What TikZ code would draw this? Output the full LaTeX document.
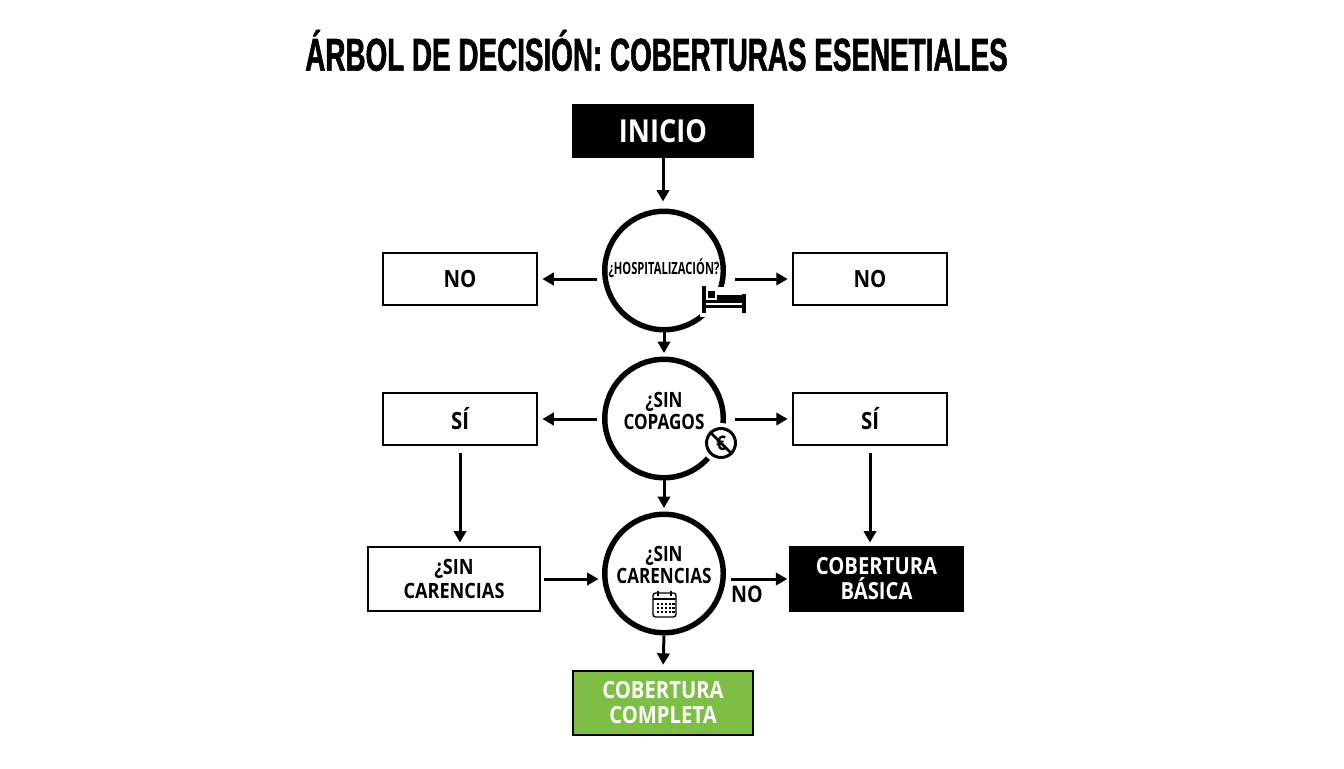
\documentclass[tikz,border=0pt]{standalone}
\usepackage{fontspec}
\setmainfont{Open Sans}
\newfontfamily\titlefont[FakeStretch=0.605,FakeBold=1.2]{Liberation Sans}
\newfontfamily\boxfont[FakeStretch=0.86]{Open Sans}
\newfontfamily\askfont[FakeStretch=0.81]{Open Sans}
\newfontfamily\tightfont[FakeStretch=0.66]{Open Sans}
\usetikzlibrary{arrows.meta}
\definecolor{leafgreen}{HTML}{7DBE45}
\tikzset{
  flow/.style={line width=1.7pt,-{Triangle[length=6.5pt,width=7pt]}},
  whitebox/.style={draw,fill=white,line width=1.1pt,font=\boxfont\bfseries\fontsize{13.5}{15.5}\selectfont,align=center,inner sep=0pt},
  blackbox/.style={whitebox,fill=black,text=white},
  ask/.style={circle,draw,line width=3.1pt,minimum size=2.37cm,inner sep=0pt},
  asktext/.style={font=\askfont\bfseries\fontsize{12}{12.8}\selectfont,align=center,inner sep=0pt},
}
\begin{document}
\begin{tikzpicture}[x=0.02cm,y=-0.02cm]
\useasboundingbox (0,0) rectangle (1344,768);
\node[font=\titlefont\bfseries\fontsize{26.2}{28}\selectfont,inner sep=0pt] (title) at (656.5,50.5) {ÁRBOL DE DECISIÓN: COBERTURAS ESENETIALES};

\node[blackbox,minimum width=3.6cm,minimum height=1.06cm,font=\boxfont\bfseries\fontsize{18}{20}\selectfont] (inicio) at (663,131) {INICIO};

% circles
\node[ask] (hosp) at (664,270.5) {};
\node[ask] (copagos) at (664,418.5) {};
\node[ask] (carencias) at (664,573.5) {};

% gaps in the rings
\fill[white] (700,287) rectangle (748,317);
\fill[white] (721,443) circle (20);

\node[asktext,font=\tightfont\bfseries\fontsize{9.6}{11}\selectfont] (hosptext) at (664,268) {¿HOSPITALIZACIÓN?};
\node[asktext] (copagostext) at (664,411) {¿SIN\\COPAGOS};
\node[asktext] (carenciastext) at (664,565) {¿SIN\\CARENCIAS};

% bed
\fill (702,286) rectangle (706,313);
\fill (742,294) rectangle (745.5,313);
\fill (706,304.5) rectangle (742,308);
\fill (716.5,295) rectangle (742,303);
\fill (707.5,291) rectangle (715,298);
\fill (706,299.5) rectangle (717,303);

% no euro
\node[circle,draw,fill=white,line width=1.7pt,minimum size=0.58cm,inner sep=0pt,font=\boxfont\bfseries\fontsize{11.5}{12}\selectfont] (noeuro) at (721,443) {€};
\draw[line width=1.6pt] (noeuro.north west) -- (noeuro.south east);

% calendar
\draw[line width=0.8pt,rounded corners=1.5pt] (653,593) rectangle (676,617);
\draw[line width=0.8pt] (653,599) -- (676,599);
\foreach \xcal in {658,671} \draw[line width=1.1pt] (\xcal,590.5) -- (\xcal,596);
\foreach \xcal in {656.5,660.5,664.5,668.5,672}
  \foreach \ycal in {602.5,606.5,610.5}
    \fill (\xcal,\ycal) rectangle +(2.5,2.5);

\node[whitebox,minimum width=3.08cm,minimum height=1.04cm] (noleft) at (460,279) {NO};
\node[whitebox,minimum width=3.08cm,minimum height=1.04cm] (noright) at (870,279) {NO};
\node[whitebox,minimum width=3.08cm,minimum height=1.04cm] (sileft) at (460,419) {SÍ};
\node[whitebox,minimum width=3.08cm,minimum height=1.04cm] (siright) at (870,419) {SÍ};
\node[whitebox,minimum width=3.44cm,minimum height=1.28cm,font=\boxfont\bfseries\fontsize{12}{13.8}\selectfont] (sincar) at (454,579) {¿SIN\\CARENCIAS};
\node[blackbox,minimum width=3.46cm,minimum height=1.28cm,font=\boxfont\bfseries\fontsize{13.4}{14.2}\selectfont] (basica) at (876.5,579) {COBERTURA\\BÁSICA};
\node[whitebox,fill=leafgreen,text=white,minimum width=3.6cm,minimum height=1.28cm,font=\boxfont\bfseries\fontsize{13.4}{14.2}\selectfont] (completa) at (663,703) {COBERTURA\\COMPLETA};
\node[asktext,font=\boxfont\bfseries\fontsize{13}{15}\selectfont] (nolabel) at (747,594) {NO};

% connectors
\draw[flow,shorten >=4pt] (inicio.south) -- (inicio.south |- hosp.north);
\draw[flow,shorten >=2pt] (hosp.south) -- (copagos.north);
\draw[flow,shorten >=2pt] (copagos.south) -- (carencias.north);
\draw[flow,shorten >=3pt] (carencias.south) -- (completa.north);
\draw[flow,shorten <=3pt,shorten >=2.5pt] (hosp.west |- noleft.east) -- (noleft.east);
\draw[flow,shorten <=5pt,shorten >=2.5pt] (hosp.east |- noright.west) -- (noright.west);
\draw[flow,shorten <=3pt,shorten >=2.5pt] (copagos.west |- sileft.east) -- (sileft.east);
\draw[flow,shorten <=5pt,shorten >=2.5pt] (copagos.east |- siright.west) -- (siright.west);
\draw[flow,shorten <=4pt,shorten >=2pt] (sileft.south) -- (sileft.south |- sincar.north);
\draw[flow,shorten <=4pt,shorten >=2pt] (siright.south) -- (siright.south |- basica.north);
\draw[flow,shorten <=2pt,shorten >=2pt] (sincar.east) -- (carencias.west |- sincar.east);
\draw[flow,shorten <=3pt,shorten >=1pt] (carencias.east |- basica.west) -- (basica.west);
\end{tikzpicture}
\end{document}
